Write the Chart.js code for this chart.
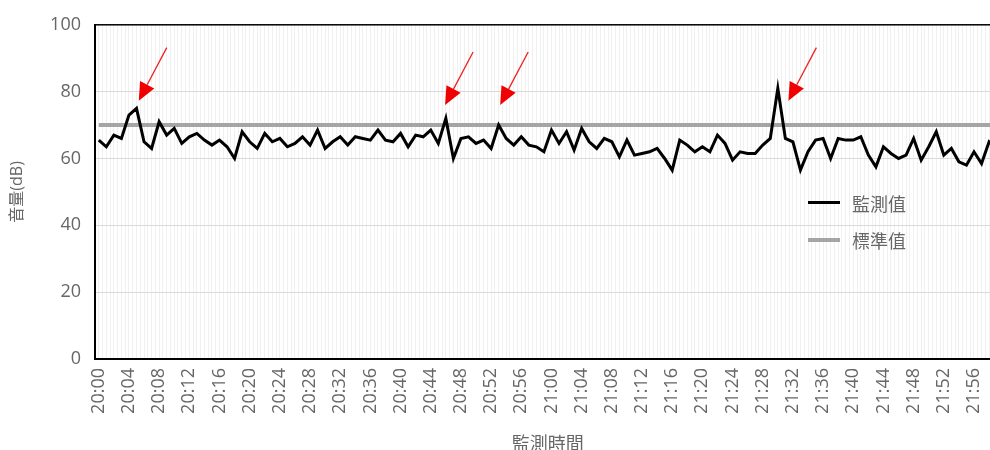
<!DOCTYPE html>
<html>
<head>
<meta charset="utf-8">
<script src="https://cdn.jsdelivr.net/npm/chart.js@4/dist/chart.umd.min.js"></script>
<style>
  html, body { margin: 0; padding: 0; background: #fff; overflow: hidden; }
  #wrap { position: relative; width: 1031px; height: 462px; }
  #legend { position: absolute; left: 808px; top: 184px; font-family: "Noto Sans CJK TC", sans-serif; font-size: 18px; color: #666; }
  .item { display: flex; align-items: center; height: 37px; }
  .swatch { width: 32px; height: 3px; margin-right: 12px; }
</style>
</head>
<body>
<div id="wrap">
  <canvas id="noiseChart" width="1031" height="462"></canvas>
  <div id="legend"></div>
</div>
<script>
/* 監測時間 20:00 ~ 21:59，每分鐘一筆 */
const times = [];
for (let h = 20; h <= 21; h++) {
  for (let m = 0; m < 60; m++) times.push(`${h}:${String(m).padStart(2, '0')}`);
}

/* 監測值 (dB) — 由圖面讀取 */
const levels = [
  65.5, 63.5, 67, 66, 73, 75, 65, 63, 71, 67,
  69, 64.5, 66.5, 67.5, 65.5, 64, 65.5, 63.5, 60, 68,
  65, 63, 67.5, 65, 66, 63.5, 64.5, 66.5, 64, 68.5,
  63, 65, 66.5, 64, 66.5, 66, 65.5, 68.5, 65.5, 65,
  67.5, 63.5, 67, 66.5, 68.5, 64.5, 72, 60, 66, 66.5,
  64.5, 65.5, 63, 70, 66, 64, 66.5, 64, 63.5, 62,
  68.5, 64.5, 68, 62.5, 69, 65, 63, 66, 65, 60.5,
  65.5, 61, 61.5, 62, 63, 60, 56.5, 65.5, 64, 62,
  63.5, 62, 67, 64.5, 59.5, 62, 61.5, 61.5, 64, 66,
  81, 66, 65, 56.5, 62, 65.5, 66, 60, 66, 65.5,
  65.5, 66.5, 61, 57.5, 63.5, 61.5, 60, 61, 66, 59.5,
  63.5, 68, 61, 63, 59, 58, 62, 58.5, 65, 63,
];

/* 標準值 (dB) */
const standardLevel = 70;

/* 紅色箭頭：指向的位置 (分鐘索引, dB) */
const arrowAt  = [5.3, 45.9, 53.2, 91.4];
const arrowTip = [77.3, 76, 76, 77.3];

const yTicks = [0, 20, 40, 60, 80, 100];

/* ─── 箭頭與外框 ─────────────────────────── */
const arrowPlugin = {
  id: 'arrows',
  afterDatasetsDraw(chart) {
    const { ctx, chartArea: a, scales: { x, y } } = chart;
    ctx.save();
    ctx.strokeStyle = '#000';
    ctx.lineWidth = 1.5;
    ctx.strokeRect(a.left, a.top, a.right - a.left, a.bottom - a.top);

    ctx.strokeStyle = '#f02020';
    ctx.fillStyle   = '#f00000';
    ctx.lineWidth   = 1.3;
    arrowAt.forEach((v, i) => {
      const tx = x.getPixelForValue(v);
      const ty = y.getPixelForValue(arrowTip[i]);
      const sx = tx + 28, sy = ty - 53;
      const ang = Math.atan2(ty - sy, tx - sx);
      const len = 18, half = 8;
      const bx = tx - len * Math.cos(ang), by = ty - len * Math.sin(ang);
      ctx.beginPath();
      ctx.moveTo(sx, sy);
      ctx.lineTo(bx, by);
      ctx.stroke();
      ctx.beginPath();
      ctx.moveTo(tx, ty);
      ctx.lineTo(bx + half * Math.sin(ang), by - half * Math.cos(ang));
      ctx.lineTo(bx - half * Math.sin(ang), by + half * Math.cos(ang));
      ctx.closePath();
      ctx.fill();
    });
    ctx.restore();
  },
};

const series = [
  { label: '監測值', data: levels.map((v, i) => ({ x: i, y: v })), color: '#000000', width: 3 },
  { label: '標準值', data: times.map((t, i) => ({ x: i, y: standardLevel })), color: '#a5a5a5', width: 4 },
];

const fontFam = '"Open Sans", "Noto Sans CJK TC", sans-serif';

new Chart(document.getElementById('noiseChart'), {
  type: 'line',
  data: {
    datasets: series.map(s => ({
      label          : s.label,
      data           : s.data,
      borderColor    : s.color,
      backgroundColor: s.color,
      borderWidth    : s.width,
      pointRadius    : 0,
      tension        : 0,
      borderJoinStyle: 'miter',
    })),
  },
  options: {
    responsive: false,
    animation : false,
    layout: { padding: { top: 24, right: 5, left: 0, bottom: 0 } },
    plugins: { legend: { display: false }, tooltip: { enabled: false } },
    scales: {
      x: {
        type: 'linear',
        min : -0.5,
        max : times.length - 0.5,
        afterFit: s => { s.height = 103; },
        afterBuildTicks: s => {
          s.ticks = [];
          for (let v = -0.5; v <= times.length - 0.5; v += 0.5) s.ticks.push({ value: v });
        },
        ticks: {
          autoSkip   : false,
          maxRotation: 90,
          minRotation: 90,
          padding    : 9,
          color      : '#666',
          font       : { family: fontFam, size: 18 },
          callback   : v => (Number.isInteger(v) && v % 4 === 0 ? times[v] : ''),
        },
        grid  : { color: '#f0f0f0', lineWidth: 1, drawTicks: false },
        border: { color: '#000', width: 2 },
        title : { display: true, text: '監測時間', color: '#666', font: { family: fontFam, size: 18 }, padding: { top: 0, bottom: 6 } },
      },
      y: {
        min: 0,
        max: 100,
        afterFit: s => { s.width = 95; },
        afterBuildTicks: s => { s.ticks = yTicks.map(v => ({ value: v })); },
        ticks : { padding: 14, color: '#666', font: { family: fontFam, size: 18 } },
        grid  : { color: '#d9d9d9', lineWidth: 1, drawTicks: false },
        border: { color: '#000', width: 2 },
        title : { display: true, text: '音量(dB)', color: '#666', font: { family: fontFam, size: 16 }, padding: { top: 8, bottom: 0 } },
      },
    },
  },
  plugins: [arrowPlugin],
});

/* ─── 圖例 ─────────────────────────────── */
document.getElementById('legend').innerHTML = series.map(s => `
  <div class="item">
    <span class="swatch" style="background:${s.color};height:${s.width}px"></span>${s.label}
  </div>`).join('');
</script>
</body>
</html>
